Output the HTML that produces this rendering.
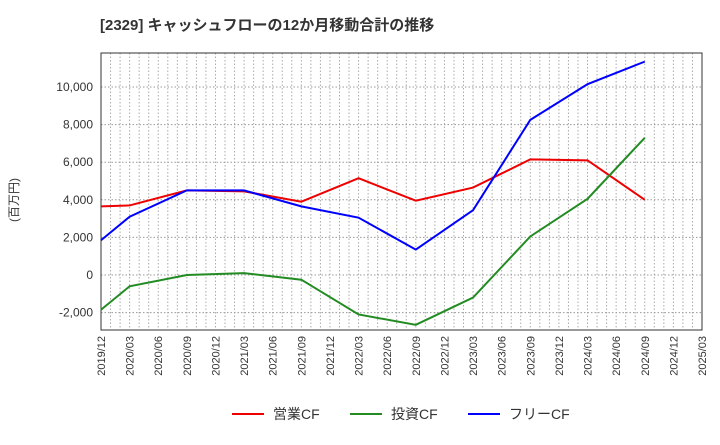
<!DOCTYPE html>
<html><head><meta charset="utf-8"><style>
body{margin:0;background:#fff;}
text{font-family:"Liberation Sans","Noto Sans CJK JP",sans-serif;}
</style></head><body>
<svg id="c" width="720" height="440" xmlns="http://www.w3.org/2000/svg">
<text x="100" y="30" font-size="15" font-weight="bold" fill="#333">[2329]  キャッシュフローの12か月移動合計の推移</text>
<text x="18" y="200" font-size="12" fill="#333" transform="rotate(-90 18 200)" text-anchor="middle">(百万円)</text>
<g id="grid"></g><g id="axes"></g><g id="lines"></g>
<g>
<line x1="232" y1="414" x2="264" y2="414" stroke="#e00" stroke-width="2"/><text x="273" y="419" font-size="14" fill="#333">営業CF</text>
<line x1="350" y1="414" x2="382" y2="414" stroke="#228b22" stroke-width="2"/><text x="391" y="419" font-size="14" fill="#333">投資CF</text>
<line x1="468" y1="414" x2="500" y2="414" stroke="#00f" stroke-width="2"/><text x="509" y="419" font-size="14" fill="#333">フリーCF</text>
</g>
</svg>
<script>
const categories=["2019/12","2020/03","2020/06","2020/09","2020/12","2021/03","2021/06","2021/09","2021/12","2022/03","2022/06","2022/09","2022/12","2023/03","2023/06","2023/09","2023/12","2024/03","2024/06","2024/09","2024/12","2025/03"];
const pointIdx=[0,1,3,5,7,9,11,13,15,17,19];
const operatingCF=[3650,3700,4500,4450,3900,5150,3950,4650,6150,6100,4000];
const investingCF=[-1850,-600,0,100,-250,-2100,-2650,-1200,2050,4050,7300];
const freeCF=[1850,3100,4500,4500,3650,3050,1350,3450,8250,10150,11350];
const yTicks=[-2000,0,2000,4000,6000,8000,10000];
const L=101,R=702,T=53,B=330;
const x=i=>L+(R-L)*i/(categories.length-1);
const y=v=>275-v*(275-87)/10000;
const NS="http://www.w3.org/2000/svg";
function mk(p,tag,at){const e=document.createElementNS(NS,tag);for(const k in at)e.setAttribute(k,at[k]);document.getElementById(p).appendChild(e);return e;}
for(let m=1;m<(categories.length-1)*3;m++){const xx=L+(R-L)*m/((categories.length-1)*3);
const g=mk("grid","line",{x1:xx,x2:xx,y1:T,y2:B,stroke:"#aaa","stroke-dasharray":"1.5,2","stroke-width":1});

}
yTicks.forEach(v=>{const g=mk("grid","line",{x1:L,x2:R,y1:y(v),y2:y(v),stroke:"#999","stroke-dasharray":"1.5,2","stroke-width":1});


const t=mk("axes","text",{x:L-8,y:y(v)+4,"text-anchor":"end","font-size":12,fill:"#333"});t.textContent=v.toLocaleString("en-US");

});
const fr=mk("axes","rect",{x:L,y:T,width:R-L,height:B-T,fill:"none",stroke:"#333","stroke-width":1});


categories.forEach((c,i)=>{const t=mk("axes","text",{x:x(i)+4,y:B+6,"text-anchor":"end","font-size":11,fill:"#333",transform:`rotate(-90 ${x(i)+4} ${B+6})`});t.textContent=c;

});
[[operatingCF,"#e00","operating-cf-line"],[investingCF,"#228b22","investing-cf-line"],[freeCF,"#00f","free-cf-line"]].forEach(([d,c,n])=>{
const p=mk("lines","polyline",{points:d.map((v,k)=>x(pointIdx[k])+","+y(v)).join(" "),fill:"none",stroke:c,"stroke-width":2});

});
</script>
</body></html>
